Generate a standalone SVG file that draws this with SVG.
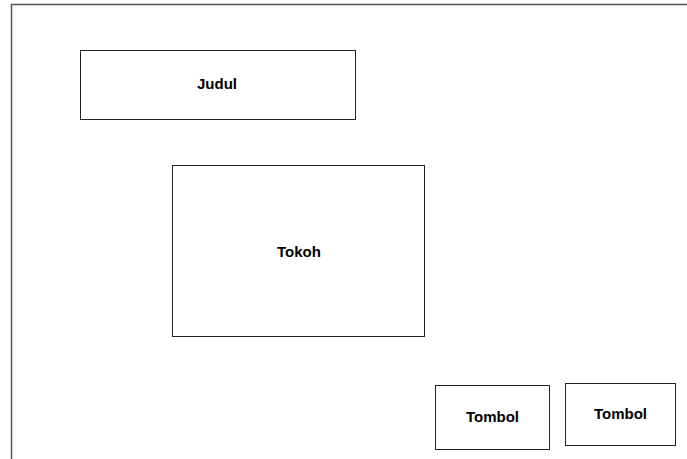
<svg xmlns="http://www.w3.org/2000/svg" width="687" height="459" viewBox="0 0 687 459">
<style>
.box{fill:#fff;stroke:#222;stroke-width:1}
.lbl{font-family:"Liberation Sans",Arial,sans-serif;font-weight:bold;font-size:15px;fill:#000;text-anchor:middle}
</style>
<rect width="687" height="459" fill="#fff"/>
<g id="frame"><path d="M11.5,459 V4.5 H687" fill="none" stroke="#555" stroke-width="1.5"/></g>
<g id="judul"><rect class="box" x="80.5" y="50.5" width="275" height="69"/><text class="lbl" x="217" y="89">Judul</text></g>
<g id="tokoh"><rect class="box" x="172.5" y="165.5" width="252" height="171"/><text class="lbl" x="299" y="256.5">Tokoh</text></g>
<g id="tombol1"><rect class="box" x="435.5" y="385.5" width="114" height="64"/><text class="lbl" x="492.5" y="421.5">Tombol</text></g>
<g id="tombol2"><rect class="box" x="565.5" y="383.5" width="110" height="62"/><text class="lbl" x="620.5" y="418.5">Tombol</text></g>
<g id="connectors"></g>
</svg>
